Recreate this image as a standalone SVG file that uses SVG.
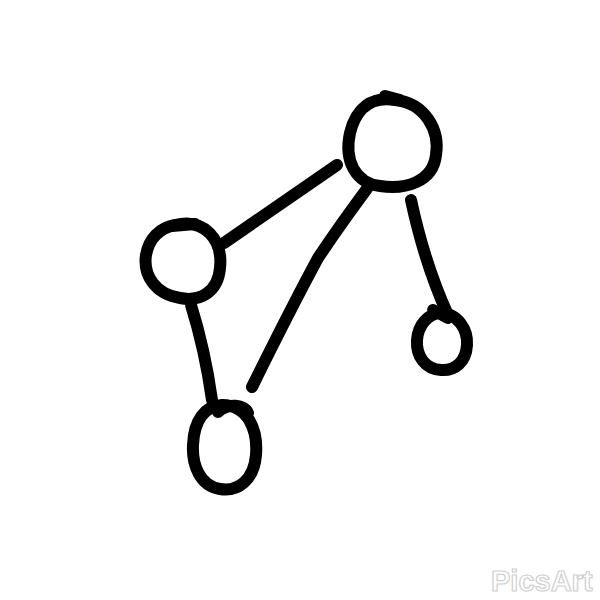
<svg xmlns="http://www.w3.org/2000/svg" width="600" height="600" viewBox="0 0 600 600">
<style>
.n{fill:none;stroke:#000;stroke-width:12;stroke-linecap:round;stroke-linejoin:round}
.e{fill:none;stroke:#000;stroke-width:12;stroke-linecap:round}
.wm{font-family:"Liberation Sans",Arial,sans-serif;font-size:29px;font-weight:bold;fill:#fff;stroke:#cfcfcf;stroke-width:1.2}
</style>
<rect width="600" height="600" fill="#fff"/>
<g id="connectors">
<path class="e" d="M224,243 L337,165"/>
<path class="e" d="M369,186 Q340,225 318,258 Q290,310 252,387"/>
<path class="e" d="M191,305 Q205,350 212,400"/>
<path class="e" d="M411,200 Q425,265 448,315"/>
</g>
<g id="node-top"><path class="n" d="M395,100 C425,103 440,130 436,155 C433,182 405,190 380,186 C355,183 344,160 350,133 C356,108 372,96 395,100 Z M385,96 L400,100"/></g>
<g id="node-left"><path class="n" d="M175,225 C205,218 223,240 220,268 C218,292 200,302 180,298 C155,294 143,275 146,255 C149,238 160,228 175,225 Z M172,226 L195,224"/></g>
<g id="node-bottom"><path class="n" d="M222,405 C248,405 258,430 256,455 C254,480 238,492 220,489 C200,486 192,465 193,445 C194,420 205,406 222,405 Z M218,412 C228,402 245,405 248,413"/></g>
<g id="node-small"><path class="n" d="M440,313 C458,313 468,330 467,345 C466,362 455,371 441,370 C425,369 416,356 417,340 C418,325 428,314 440,313 Z M433,310 L448,318"/></g>
<text class="wm" x="491" y="591">PicsArt</text>
</svg>
